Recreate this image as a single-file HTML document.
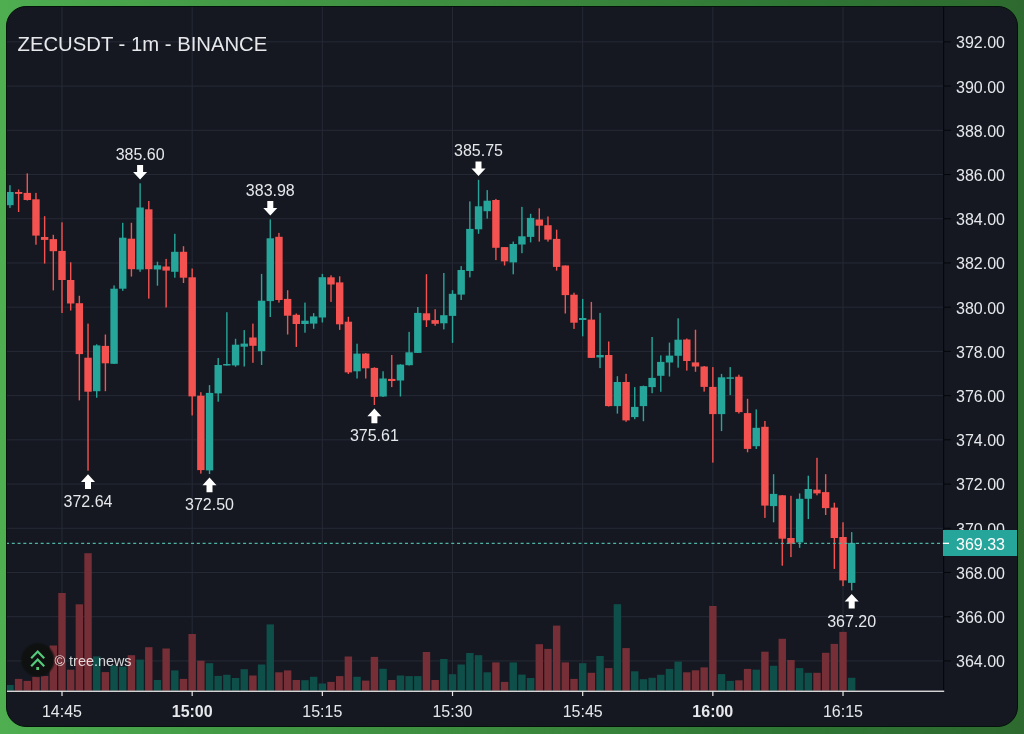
<!DOCTYPE html><html><head><meta charset="utf-8"><style>
html,body{margin:0;padding:0;width:1024px;height:734px;overflow:hidden;}
body{background:linear-gradient(90deg,#4eae50 0%,#449c47 20%,#3c8a3e 50%,#2f7735 76%,#2e6a2f 100%);position:relative;}
#p{position:absolute;left:6px;top:6px;width:1012px;height:721px;box-sizing:border-box;border:1px solid #03120a;border-radius:20px;overflow:hidden;background:#151821;}
#p svg{position:absolute;left:-7px;top:-7px;will-change:transform;}
text{font-family:"Liberation Sans",sans-serif;}
</style></head><body><div id="p">
<svg width="1024" height="734" viewBox="0 0 1024 734">
<rect x="0" y="41.35" width="943" height="1" fill="#262a35"/><rect x="0" y="85.57" width="943" height="1" fill="#262a35"/><rect x="0" y="129.79" width="943" height="1" fill="#262a35"/><rect x="0" y="174.01" width="943" height="1" fill="#262a35"/><rect x="0" y="218.23" width="943" height="1" fill="#262a35"/><rect x="0" y="262.45" width="943" height="1" fill="#262a35"/><rect x="0" y="306.67" width="943" height="1" fill="#262a35"/><rect x="0" y="350.89" width="943" height="1" fill="#262a35"/><rect x="0" y="395.11" width="943" height="1" fill="#262a35"/><rect x="0" y="439.33" width="943" height="1" fill="#262a35"/><rect x="0" y="483.55" width="943" height="1" fill="#262a35"/><rect x="0" y="527.77" width="943" height="1" fill="#262a35"/><rect x="0" y="571.99" width="943" height="1" fill="#262a35"/><rect x="0" y="616.21" width="943" height="1" fill="#262a35"/><rect x="0" y="660.43" width="943" height="1" fill="#262a35"/><rect x="61.50" y="0" width="1" height="690" fill="#262a35"/><rect x="191.67" y="0" width="1" height="690" fill="#262a35"/><rect x="321.84" y="0" width="1" height="690" fill="#262a35"/><rect x="452.01" y="0" width="1" height="690" fill="#262a35"/><rect x="582.18" y="0" width="1" height="690" fill="#262a35"/><rect x="712.35" y="0" width="1" height="690" fill="#262a35"/><rect x="842.52" y="0" width="1" height="690" fill="#262a35"/>
<rect x="6.23" y="685.0" width="7.4" height="5.6" fill="#0f4f4a"/><rect x="14.91" y="678.9" width="7.4" height="11.7" fill="#772f37"/><rect x="23.59" y="680.9" width="7.4" height="9.7" fill="#772f37"/><rect x="32.26" y="676.8" width="7.4" height="13.8" fill="#772f37"/><rect x="40.94" y="676.0" width="7.4" height="14.6" fill="#772f37"/><rect x="49.62" y="645.5" width="7.4" height="45.1" fill="#772f37"/><rect x="58.30" y="593.0" width="7.4" height="97.6" fill="#772f37"/><rect x="66.98" y="669.7" width="7.4" height="20.9" fill="#772f37"/><rect x="75.65" y="604.3" width="7.4" height="86.3" fill="#772f37"/><rect x="84.33" y="553.2" width="7.4" height="137.4" fill="#772f37"/><rect x="93.01" y="656.4" width="7.4" height="34.2" fill="#0f4f4a"/><rect x="101.69" y="672.1" width="7.4" height="18.5" fill="#772f37"/><rect x="110.37" y="665.4" width="7.4" height="25.2" fill="#0f4f4a"/><rect x="119.04" y="666.6" width="7.4" height="24.0" fill="#0f4f4a"/><rect x="127.72" y="655.2" width="7.4" height="35.4" fill="#772f37"/><rect x="136.40" y="659.6" width="7.4" height="31.0" fill="#0f4f4a"/><rect x="145.08" y="647.2" width="7.4" height="43.4" fill="#772f37"/><rect x="153.76" y="680.0" width="7.4" height="10.6" fill="#0f4f4a"/><rect x="162.43" y="648.5" width="7.4" height="42.1" fill="#772f37"/><rect x="171.11" y="670.4" width="7.4" height="20.2" fill="#0f4f4a"/><rect x="179.79" y="678.9" width="7.4" height="11.7" fill="#772f37"/><rect x="188.47" y="634.0" width="7.4" height="56.6" fill="#772f37"/><rect x="197.15" y="660.7" width="7.4" height="29.9" fill="#772f37"/><rect x="205.82" y="663.2" width="7.4" height="27.4" fill="#0f4f4a"/><rect x="214.50" y="675.9" width="7.4" height="14.7" fill="#0f4f4a"/><rect x="223.18" y="674.8" width="7.4" height="15.8" fill="#0f4f4a"/><rect x="231.86" y="678.0" width="7.4" height="12.6" fill="#0f4f4a"/><rect x="240.54" y="669.2" width="7.4" height="21.4" fill="#0f4f4a"/><rect x="249.21" y="675.5" width="7.4" height="15.1" fill="#772f37"/><rect x="257.89" y="664.5" width="7.4" height="26.1" fill="#0f4f4a"/><rect x="266.57" y="624.4" width="7.4" height="66.2" fill="#0f4f4a"/><rect x="275.25" y="672.3" width="7.4" height="18.3" fill="#772f37"/><rect x="283.93" y="670.4" width="7.4" height="20.2" fill="#772f37"/><rect x="292.60" y="680.0" width="7.4" height="10.6" fill="#772f37"/><rect x="301.28" y="680.2" width="7.4" height="10.4" fill="#0f4f4a"/><rect x="309.96" y="676.8" width="7.4" height="13.8" fill="#0f4f4a"/><rect x="318.64" y="683.5" width="7.4" height="7.1" fill="#0f4f4a"/><rect x="327.32" y="681.9" width="7.4" height="8.7" fill="#772f37"/><rect x="335.99" y="676.1" width="7.4" height="14.5" fill="#772f37"/><rect x="344.67" y="656.5" width="7.4" height="34.1" fill="#772f37"/><rect x="353.35" y="676.8" width="7.4" height="13.8" fill="#0f4f4a"/><rect x="362.03" y="680.6" width="7.4" height="10.0" fill="#772f37"/><rect x="370.71" y="656.9" width="7.4" height="33.7" fill="#772f37"/><rect x="379.38" y="668.8" width="7.4" height="21.8" fill="#0f4f4a"/><rect x="388.06" y="680.0" width="7.4" height="10.6" fill="#772f37"/><rect x="396.74" y="675.5" width="7.4" height="15.1" fill="#0f4f4a"/><rect x="405.42" y="676.1" width="7.4" height="14.5" fill="#0f4f4a"/><rect x="414.10" y="676.1" width="7.4" height="14.5" fill="#0f4f4a"/><rect x="422.77" y="652.0" width="7.4" height="38.6" fill="#772f37"/><rect x="431.45" y="680.0" width="7.4" height="10.6" fill="#772f37"/><rect x="440.13" y="659.0" width="7.4" height="31.6" fill="#0f4f4a"/><rect x="448.81" y="674.2" width="7.4" height="16.4" fill="#0f4f4a"/><rect x="457.49" y="664.5" width="7.4" height="26.1" fill="#0f4f4a"/><rect x="466.16" y="653.0" width="7.4" height="37.6" fill="#0f4f4a"/><rect x="474.84" y="655.2" width="7.4" height="35.4" fill="#0f4f4a"/><rect x="483.52" y="672.3" width="7.4" height="18.3" fill="#0f4f4a"/><rect x="492.20" y="662.4" width="7.4" height="28.2" fill="#772f37"/><rect x="500.88" y="681.9" width="7.4" height="8.7" fill="#772f37"/><rect x="509.55" y="662.4" width="7.4" height="28.2" fill="#0f4f4a"/><rect x="518.23" y="674.6" width="7.4" height="16.0" fill="#0f4f4a"/><rect x="526.91" y="678.0" width="7.4" height="12.6" fill="#0f4f4a"/><rect x="535.59" y="644.2" width="7.4" height="46.4" fill="#772f37"/><rect x="544.27" y="648.9" width="7.4" height="41.7" fill="#772f37"/><rect x="552.94" y="625.6" width="7.4" height="65.0" fill="#772f37"/><rect x="561.62" y="662.4" width="7.4" height="28.2" fill="#772f37"/><rect x="570.30" y="678.9" width="7.4" height="11.7" fill="#772f37"/><rect x="578.98" y="663.2" width="7.4" height="27.4" fill="#0f4f4a"/><rect x="587.66" y="672.8" width="7.4" height="17.8" fill="#772f37"/><rect x="596.33" y="656.0" width="7.4" height="34.6" fill="#0f4f4a"/><rect x="605.01" y="668.1" width="7.4" height="22.5" fill="#772f37"/><rect x="613.69" y="604.2" width="7.4" height="86.4" fill="#0f4f4a"/><rect x="622.37" y="648.1" width="7.4" height="42.5" fill="#772f37"/><rect x="631.05" y="671.3" width="7.4" height="19.3" fill="#0f4f4a"/><rect x="639.72" y="679.2" width="7.4" height="11.4" fill="#0f4f4a"/><rect x="648.40" y="677.8" width="7.4" height="12.8" fill="#0f4f4a"/><rect x="657.08" y="674.8" width="7.4" height="15.8" fill="#0f4f4a"/><rect x="665.76" y="668.9" width="7.4" height="21.7" fill="#0f4f4a"/><rect x="674.44" y="661.6" width="7.4" height="29.0" fill="#0f4f4a"/><rect x="683.11" y="672.3" width="7.4" height="18.3" fill="#772f37"/><rect x="691.79" y="670.3" width="7.4" height="20.3" fill="#772f37"/><rect x="700.47" y="667.4" width="7.4" height="23.2" fill="#772f37"/><rect x="709.15" y="606.0" width="7.4" height="84.6" fill="#772f37"/><rect x="717.83" y="674.1" width="7.4" height="16.5" fill="#0f4f4a"/><rect x="726.50" y="680.9" width="7.4" height="9.7" fill="#0f4f4a"/><rect x="735.18" y="680.3" width="7.4" height="10.3" fill="#772f37"/><rect x="743.86" y="668.9" width="7.4" height="21.7" fill="#772f37"/><rect x="752.54" y="669.7" width="7.4" height="20.9" fill="#0f4f4a"/><rect x="761.22" y="651.7" width="7.4" height="38.9" fill="#772f37"/><rect x="769.89" y="665.8" width="7.4" height="24.8" fill="#0f4f4a"/><rect x="778.57" y="638.8" width="7.4" height="51.8" fill="#772f37"/><rect x="787.25" y="660.0" width="7.4" height="30.6" fill="#772f37"/><rect x="795.93" y="668.1" width="7.4" height="22.5" fill="#0f4f4a"/><rect x="804.61" y="672.8" width="7.4" height="17.8" fill="#0f4f4a"/><rect x="813.28" y="672.8" width="7.4" height="17.8" fill="#772f37"/><rect x="821.96" y="652.8" width="7.4" height="37.8" fill="#772f37"/><rect x="830.64" y="643.9" width="7.4" height="46.7" fill="#772f37"/><rect x="839.32" y="631.9" width="7.4" height="58.7" fill="#772f37"/><rect x="848.00" y="677.8" width="7.4" height="12.8" fill="#0f4f4a"/>
<defs><radialGradient id="lg"><stop offset="0.84" stop-color="#0e110f"/><stop offset="1" stop-color="#0e110f" stop-opacity="0"/></radialGradient></defs>
<circle cx="37.9" cy="659.9" r="18" fill="url(#lg)"/>
<g fill="none" stroke="#56cb7b" stroke-width="2.2" stroke-linecap="butt" stroke-linejoin="miter"><polyline points="31.2,658.2 37.7,651.6 44.2,658.2"/><polyline points="31.2,666.2 37.7,659.6 44.2,666.2"/></g><rect x="36.3" y="667" width="2.8" height="3" fill="#56cb7b"/>
<text x="54.5" y="666.2" font-size="14.4" fill="#ffffff" fill-opacity="0.82">© tree.news</text>
<rect x="9.23" y="185.2" width="1.4" height="22.7" fill="#26a69a"/><rect x="6.23" y="192.0" width="7.4" height="13.2" fill="#26a69a"/><rect x="17.91" y="189.5" width="1.4" height="22.5" fill="#f35250"/><rect x="14.91" y="192.0" width="7.4" height="1.9" fill="#f35250"/><rect x="26.59" y="173.4" width="1.4" height="27.1" fill="#f35250"/><rect x="23.59" y="192.9" width="7.4" height="7.1" fill="#f35250"/><rect x="35.26" y="192.9" width="1.4" height="51.8" fill="#f35250"/><rect x="32.26" y="199.3" width="7.4" height="36.3" fill="#f35250"/><rect x="43.94" y="216.2" width="1.4" height="47.4" fill="#f35250"/><rect x="40.94" y="237.0" width="7.4" height="2.9" fill="#f35250"/><rect x="52.62" y="234.8" width="1.4" height="55.6" fill="#f35250"/><rect x="49.62" y="239.1" width="7.4" height="12.1" fill="#f35250"/><rect x="61.30" y="222.3" width="1.4" height="90.7" fill="#f35250"/><rect x="58.30" y="250.9" width="7.4" height="29.1" fill="#f35250"/><rect x="69.98" y="262.3" width="1.4" height="48.2" fill="#f35250"/><rect x="66.98" y="280.0" width="7.4" height="23.5" fill="#f35250"/><rect x="78.65" y="295.8" width="1.4" height="104.6" fill="#f35250"/><rect x="75.65" y="303.2" width="7.4" height="50.9" fill="#f35250"/><rect x="87.33" y="323.6" width="1.4" height="147.1" fill="#f35250"/><rect x="84.33" y="357.7" width="7.4" height="34.0" fill="#f35250"/><rect x="96.01" y="344.3" width="1.4" height="53.4" fill="#26a69a"/><rect x="93.01" y="345.4" width="7.4" height="45.8" fill="#26a69a"/><rect x="104.69" y="334.5" width="1.4" height="56.7" fill="#f35250"/><rect x="101.69" y="345.9" width="7.4" height="17.4" fill="#f35250"/><rect x="113.37" y="285.4" width="1.4" height="78.6" fill="#26a69a"/><rect x="110.37" y="288.7" width="7.4" height="75.1" fill="#26a69a"/><rect x="122.04" y="222.8" width="1.4" height="68.0" fill="#26a69a"/><rect x="119.04" y="237.7" width="7.4" height="51.0" fill="#26a69a"/><rect x="130.72" y="222.8" width="1.4" height="53.8" fill="#f35250"/><rect x="127.72" y="238.7" width="7.4" height="30.5" fill="#f35250"/><rect x="139.40" y="183.3" width="1.4" height="88.5" fill="#26a69a"/><rect x="136.40" y="207.5" width="7.4" height="62.0" fill="#26a69a"/><rect x="148.08" y="201.0" width="1.4" height="97.6" fill="#f35250"/><rect x="145.08" y="209.3" width="7.4" height="59.9" fill="#f35250"/><rect x="156.76" y="261.7" width="1.4" height="24.0" fill="#26a69a"/><rect x="153.76" y="265.3" width="7.4" height="4.2" fill="#26a69a"/><rect x="165.43" y="258.9" width="1.4" height="48.6" fill="#f35250"/><rect x="162.43" y="266.5" width="7.4" height="4.1" fill="#f35250"/><rect x="174.11" y="233.8" width="1.4" height="43.9" fill="#26a69a"/><rect x="171.11" y="251.8" width="7.4" height="20.0" fill="#26a69a"/><rect x="182.79" y="246.2" width="1.4" height="36.8" fill="#f35250"/><rect x="179.79" y="251.8" width="7.4" height="25.9" fill="#f35250"/><rect x="191.47" y="268.5" width="1.4" height="147.0" fill="#f35250"/><rect x="188.47" y="277.3" width="7.4" height="119.1" fill="#f35250"/><rect x="200.15" y="392.2" width="1.4" height="81.4" fill="#f35250"/><rect x="197.15" y="395.7" width="7.4" height="74.4" fill="#f35250"/><rect x="208.82" y="385.1" width="1.4" height="88.9" fill="#26a69a"/><rect x="205.82" y="392.9" width="7.4" height="77.5" fill="#26a69a"/><rect x="217.50" y="358.0" width="1.4" height="43.7" fill="#26a69a"/><rect x="214.50" y="365.0" width="7.4" height="28.4" fill="#26a69a"/><rect x="226.18" y="312.2" width="1.4" height="53.3" fill="#26a69a"/><rect x="223.18" y="364.0" width="7.4" height="1.5" fill="#26a69a"/><rect x="234.86" y="338.8" width="1.4" height="27.9" fill="#26a69a"/><rect x="231.86" y="344.7" width="7.4" height="20.7" fill="#26a69a"/><rect x="243.54" y="330.1" width="1.4" height="36.4" fill="#26a69a"/><rect x="240.54" y="343.6" width="7.4" height="3.1" fill="#26a69a"/><rect x="252.21" y="323.6" width="1.4" height="39.2" fill="#f35250"/><rect x="249.21" y="337.5" width="7.4" height="8.3" fill="#f35250"/><rect x="260.89" y="273.9" width="1.4" height="91.1" fill="#26a69a"/><rect x="257.89" y="300.7" width="7.4" height="50.5" fill="#26a69a"/><rect x="269.57" y="219.4" width="1.4" height="97.6" fill="#26a69a"/><rect x="266.57" y="238.3" width="7.4" height="62.8" fill="#26a69a"/><rect x="278.25" y="232.9" width="1.4" height="69.7" fill="#f35250"/><rect x="275.25" y="236.8" width="7.4" height="63.2" fill="#f35250"/><rect x="286.93" y="290.2" width="1.4" height="44.3" fill="#f35250"/><rect x="283.93" y="298.9" width="7.4" height="16.8" fill="#f35250"/><rect x="295.60" y="313.5" width="1.4" height="33.4" fill="#f35250"/><rect x="292.60" y="314.8" width="7.4" height="9.2" fill="#f35250"/><rect x="304.28" y="302.6" width="1.4" height="30.1" fill="#26a69a"/><rect x="301.28" y="320.7" width="7.4" height="3.3" fill="#26a69a"/><rect x="312.96" y="313.1" width="1.4" height="15.7" fill="#26a69a"/><rect x="309.96" y="316.4" width="7.4" height="7.2" fill="#26a69a"/><rect x="321.64" y="273.9" width="1.4" height="48.6" fill="#26a69a"/><rect x="318.64" y="277.2" width="7.4" height="40.3" fill="#26a69a"/><rect x="330.32" y="275.3" width="1.4" height="26.6" fill="#f35250"/><rect x="327.32" y="277.3" width="7.4" height="7.2" fill="#f35250"/><rect x="338.99" y="276.3" width="1.4" height="53.6" fill="#f35250"/><rect x="335.99" y="282.4" width="7.4" height="41.9" fill="#f35250"/><rect x="347.67" y="316.8" width="1.4" height="57.2" fill="#f35250"/><rect x="344.67" y="321.7" width="7.4" height="50.7" fill="#f35250"/><rect x="356.35" y="343.7" width="1.4" height="34.8" fill="#26a69a"/><rect x="353.35" y="353.6" width="7.4" height="17.7" fill="#26a69a"/><rect x="365.03" y="353.0" width="1.4" height="25.5" fill="#f35250"/><rect x="362.03" y="353.6" width="7.4" height="14.7" fill="#f35250"/><rect x="373.71" y="367.3" width="1.4" height="37.7" fill="#f35250"/><rect x="370.71" y="367.9" width="7.4" height="29.0" fill="#f35250"/><rect x="382.38" y="371.3" width="1.4" height="25.7" fill="#26a69a"/><rect x="379.38" y="378.5" width="7.4" height="18.0" fill="#26a69a"/><rect x="391.06" y="355.0" width="1.4" height="32.1" fill="#f35250"/><rect x="388.06" y="378.9" width="7.4" height="2.1" fill="#f35250"/><rect x="399.74" y="364.2" width="1.4" height="32.3" fill="#26a69a"/><rect x="396.74" y="364.6" width="7.4" height="15.9" fill="#26a69a"/><rect x="408.42" y="331.9" width="1.4" height="33.6" fill="#26a69a"/><rect x="405.42" y="352.3" width="7.4" height="12.9" fill="#26a69a"/><rect x="417.10" y="307.0" width="1.4" height="46.0" fill="#26a69a"/><rect x="414.10" y="312.9" width="7.4" height="40.0" fill="#26a69a"/><rect x="425.77" y="274.2" width="1.4" height="52.8" fill="#f35250"/><rect x="422.77" y="313.3" width="7.4" height="7.0" fill="#f35250"/><rect x="434.45" y="309.2" width="1.4" height="16.5" fill="#f35250"/><rect x="431.45" y="320.1" width="7.4" height="3.7" fill="#f35250"/><rect x="443.13" y="273.0" width="1.4" height="56.4" fill="#26a69a"/><rect x="440.13" y="315.2" width="7.4" height="8.1" fill="#26a69a"/><rect x="451.81" y="290.2" width="1.4" height="52.7" fill="#26a69a"/><rect x="448.81" y="293.8" width="7.4" height="22.1" fill="#26a69a"/><rect x="460.49" y="266.1" width="1.4" height="33.9" fill="#26a69a"/><rect x="457.49" y="270.0" width="7.4" height="24.6" fill="#26a69a"/><rect x="469.16" y="201.4" width="1.4" height="76.0" fill="#26a69a"/><rect x="466.16" y="228.9" width="7.4" height="42.1" fill="#26a69a"/><rect x="477.84" y="179.8" width="1.4" height="54.0" fill="#26a69a"/><rect x="474.84" y="206.3" width="7.4" height="23.0" fill="#26a69a"/><rect x="486.52" y="190.1" width="1.4" height="28.5" fill="#26a69a"/><rect x="483.52" y="200.7" width="7.4" height="10.5" fill="#26a69a"/><rect x="495.20" y="198.9" width="1.4" height="61.2" fill="#f35250"/><rect x="492.20" y="200.0" width="7.4" height="47.8" fill="#f35250"/><rect x="503.88" y="247.0" width="1.4" height="18.5" fill="#f35250"/><rect x="500.88" y="247.1" width="7.4" height="14.3" fill="#f35250"/><rect x="512.55" y="241.6" width="1.4" height="32.7" fill="#26a69a"/><rect x="509.55" y="244.0" width="7.4" height="18.4" fill="#26a69a"/><rect x="521.23" y="206.9" width="1.4" height="46.3" fill="#26a69a"/><rect x="518.23" y="236.3" width="7.4" height="8.2" fill="#26a69a"/><rect x="529.91" y="213.8" width="1.4" height="28.6" fill="#26a69a"/><rect x="526.91" y="217.9" width="7.4" height="19.0" fill="#26a69a"/><rect x="538.59" y="208.3" width="1.4" height="33.3" fill="#f35250"/><rect x="535.59" y="219.5" width="7.4" height="6.2" fill="#f35250"/><rect x="547.27" y="216.5" width="1.4" height="25.1" fill="#f35250"/><rect x="544.27" y="225.2" width="7.4" height="14.4" fill="#f35250"/><rect x="555.94" y="229.7" width="1.4" height="40.9" fill="#f35250"/><rect x="552.94" y="238.9" width="7.4" height="28.0" fill="#f35250"/><rect x="564.62" y="265.5" width="1.4" height="48.0" fill="#f35250"/><rect x="561.62" y="265.5" width="7.4" height="29.6" fill="#f35250"/><rect x="573.30" y="292.7" width="1.4" height="36.2" fill="#f35250"/><rect x="570.30" y="294.7" width="7.4" height="28.0" fill="#f35250"/><rect x="581.98" y="298.9" width="1.4" height="37.4" fill="#26a69a"/><rect x="578.98" y="318.0" width="7.4" height="2.0" fill="#26a69a"/><rect x="590.66" y="301.9" width="1.4" height="56.1" fill="#f35250"/><rect x="587.66" y="319.6" width="7.4" height="38.3" fill="#f35250"/><rect x="599.33" y="312.9" width="1.4" height="55.2" fill="#26a69a"/><rect x="596.33" y="355.0" width="7.4" height="2.4" fill="#26a69a"/><rect x="608.01" y="341.5" width="1.4" height="65.0" fill="#f35250"/><rect x="605.01" y="355.0" width="7.4" height="51.1" fill="#f35250"/><rect x="616.69" y="376.2" width="1.4" height="37.4" fill="#26a69a"/><rect x="613.69" y="382.0" width="7.4" height="24.1" fill="#26a69a"/><rect x="625.37" y="373.8" width="1.4" height="48.0" fill="#f35250"/><rect x="622.37" y="382.0" width="7.4" height="38.4" fill="#f35250"/><rect x="634.05" y="387.1" width="1.4" height="32.1" fill="#26a69a"/><rect x="631.05" y="406.9" width="7.4" height="10.2" fill="#26a69a"/><rect x="642.72" y="385.6" width="1.4" height="35.6" fill="#26a69a"/><rect x="639.72" y="386.1" width="7.4" height="20.0" fill="#26a69a"/><rect x="651.40" y="337.0" width="1.4" height="56.2" fill="#26a69a"/><rect x="648.40" y="377.9" width="7.4" height="9.2" fill="#26a69a"/><rect x="660.08" y="355.4" width="1.4" height="36.4" fill="#26a69a"/><rect x="657.08" y="361.9" width="7.4" height="13.9" fill="#26a69a"/><rect x="668.76" y="342.6" width="1.4" height="33.9" fill="#26a69a"/><rect x="665.76" y="355.6" width="7.4" height="6.9" fill="#26a69a"/><rect x="677.44" y="318.3" width="1.4" height="49.4" fill="#26a69a"/><rect x="674.44" y="339.7" width="7.4" height="16.1" fill="#26a69a"/><rect x="686.11" y="338.5" width="1.4" height="32.1" fill="#f35250"/><rect x="683.11" y="339.5" width="7.4" height="21.5" fill="#f35250"/><rect x="694.79" y="329.7" width="1.4" height="42.1" fill="#f35250"/><rect x="691.79" y="362.4" width="7.4" height="4.1" fill="#f35250"/><rect x="703.47" y="366.0" width="1.4" height="25.6" fill="#f35250"/><rect x="700.47" y="366.5" width="7.4" height="20.4" fill="#f35250"/><rect x="712.15" y="367.1" width="1.4" height="95.5" fill="#f35250"/><rect x="709.15" y="386.9" width="7.4" height="27.2" fill="#f35250"/><rect x="720.83" y="373.9" width="1.4" height="57.2" fill="#26a69a"/><rect x="717.83" y="377.3" width="7.4" height="36.8" fill="#26a69a"/><rect x="729.50" y="367.1" width="1.4" height="28.0" fill="#26a69a"/><rect x="726.50" y="377.3" width="7.4" height="1.5" fill="#26a69a"/><rect x="738.18" y="374.7" width="1.4" height="38.8" fill="#f35250"/><rect x="735.18" y="376.7" width="7.4" height="35.4" fill="#f35250"/><rect x="746.86" y="398.8" width="1.4" height="53.5" fill="#f35250"/><rect x="743.86" y="413.1" width="7.4" height="35.8" fill="#f35250"/><rect x="755.54" y="409.4" width="1.4" height="39.6" fill="#26a69a"/><rect x="752.54" y="427.8" width="7.4" height="18.4" fill="#26a69a"/><rect x="764.22" y="421.0" width="1.4" height="96.9" fill="#f35250"/><rect x="761.22" y="426.8" width="7.4" height="78.8" fill="#f35250"/><rect x="772.89" y="474.2" width="1.4" height="48.1" fill="#26a69a"/><rect x="769.89" y="493.9" width="7.4" height="12.2" fill="#26a69a"/><rect x="781.57" y="495.0" width="1.4" height="70.7" fill="#f35250"/><rect x="778.57" y="495.3" width="7.4" height="43.4" fill="#f35250"/><rect x="790.25" y="495.8" width="1.4" height="61.3" fill="#f35250"/><rect x="787.25" y="538.0" width="7.4" height="5.6" fill="#f35250"/><rect x="798.93" y="493.4" width="1.4" height="54.4" fill="#26a69a"/><rect x="795.93" y="498.8" width="7.4" height="43.6" fill="#26a69a"/><rect x="807.61" y="475.7" width="1.4" height="43.4" fill="#26a69a"/><rect x="804.61" y="489.0" width="7.4" height="9.8" fill="#26a69a"/><rect x="816.28" y="457.8" width="1.4" height="37.5" fill="#f35250"/><rect x="813.28" y="489.7" width="7.4" height="3.7" fill="#f35250"/><rect x="824.96" y="474.2" width="1.4" height="40.8" fill="#f35250"/><rect x="821.96" y="492.1" width="7.4" height="16.0" fill="#f35250"/><rect x="833.64" y="502.7" width="1.4" height="66.2" fill="#f35250"/><rect x="830.64" y="507.6" width="7.4" height="30.4" fill="#f35250"/><rect x="842.32" y="522.3" width="1.4" height="63.8" fill="#f35250"/><rect x="839.32" y="537.0" width="7.4" height="43.4" fill="#f35250"/><rect x="851.00" y="532.1" width="1.4" height="58.3" fill="#26a69a"/><rect x="848.00" y="542.9" width="7.4" height="40.0" fill="#26a69a"/>
<line x1="6" y1="543.3" x2="943" y2="543.3" stroke="#4fb3a3" stroke-width="1.2" stroke-dasharray="3 2.7825"/>
<rect x="943" y="0" width="1.2" height="690.5" fill="#05070b"/>
<rect x="944" y="41.35" width="7" height="1" fill="#05070b"/><text x="956" y="48.2" font-size="16" fill="#e6e8ec">392.00</text><rect x="944" y="85.57" width="7" height="1" fill="#05070b"/><text x="956" y="92.5" font-size="16" fill="#e6e8ec">390.00</text><rect x="944" y="129.79" width="7" height="1" fill="#05070b"/><text x="956" y="136.7" font-size="16" fill="#e6e8ec">388.00</text><rect x="944" y="174.01" width="7" height="1" fill="#05070b"/><text x="956" y="180.9" font-size="16" fill="#e6e8ec">386.00</text><rect x="944" y="218.23" width="7" height="1" fill="#05070b"/><text x="956" y="225.1" font-size="16" fill="#e6e8ec">384.00</text><rect x="944" y="262.45" width="7" height="1" fill="#05070b"/><text x="956" y="269.3" font-size="16" fill="#e6e8ec">382.00</text><rect x="944" y="306.67" width="7" height="1" fill="#05070b"/><text x="956" y="313.6" font-size="16" fill="#e6e8ec">380.00</text><rect x="944" y="350.89" width="7" height="1" fill="#05070b"/><text x="956" y="357.8" font-size="16" fill="#e6e8ec">378.00</text><rect x="944" y="395.11" width="7" height="1" fill="#05070b"/><text x="956" y="402.0" font-size="16" fill="#e6e8ec">376.00</text><rect x="944" y="439.33" width="7" height="1" fill="#05070b"/><text x="956" y="446.2" font-size="16" fill="#e6e8ec">374.00</text><rect x="944" y="483.55" width="7" height="1" fill="#05070b"/><text x="956" y="490.4" font-size="16" fill="#e6e8ec">372.00</text><rect x="944" y="527.77" width="7" height="1" fill="#05070b"/><text x="956" y="534.7" font-size="16" fill="#e6e8ec">370.00</text><rect x="944" y="571.99" width="7" height="1" fill="#05070b"/><text x="956" y="578.9" font-size="16" fill="#e6e8ec">368.00</text><rect x="944" y="616.21" width="7" height="1" fill="#05070b"/><text x="956" y="623.1" font-size="16" fill="#e6e8ec">366.00</text><rect x="944" y="660.43" width="7" height="1" fill="#05070b"/><text x="956" y="667.3" font-size="16" fill="#e6e8ec">364.00</text>
<rect x="943" y="530" width="76" height="26" fill="#26a69a"/>
<rect x="943" y="542.7" width="6" height="1.3" fill="#ffffff"/>
<text x="956" y="549.7" font-size="16" fill="#ffffff">369.33</text>
<rect x="0" y="690.6" width="944.2" height="1.3" fill="#e8e8e8"/>
<rect x="61.40" y="691" width="1.2" height="5" fill="#e8e8e8"/><text x="62.0" y="716.6" font-size="16" text-anchor="middle" fill="#e6e8ec">14:45</text><rect x="191.57" y="691" width="1.2" height="5" fill="#e8e8e8"/><text x="192.2" y="716.6" font-size="16" text-anchor="middle" fill="#e6e8ec" font-weight="bold">15:00</text><rect x="321.74" y="691" width="1.2" height="5" fill="#e8e8e8"/><text x="322.3" y="716.6" font-size="16" text-anchor="middle" fill="#e6e8ec">15:15</text><rect x="451.91" y="691" width="1.2" height="5" fill="#e8e8e8"/><text x="452.5" y="716.6" font-size="16" text-anchor="middle" fill="#e6e8ec">15:30</text><rect x="582.08" y="691" width="1.2" height="5" fill="#e8e8e8"/><text x="582.7" y="716.6" font-size="16" text-anchor="middle" fill="#e6e8ec">15:45</text><rect x="712.25" y="691" width="1.2" height="5" fill="#e8e8e8"/><text x="712.8" y="716.6" font-size="16" text-anchor="middle" fill="#e6e8ec" font-weight="bold">16:00</text><rect x="842.42" y="691" width="1.2" height="5" fill="#e8e8e8"/><text x="843.0" y="716.6" font-size="16" text-anchor="middle" fill="#e6e8ec">16:15</text>
<text x="140.1" y="159.9" font-size="16" text-anchor="middle" fill="#e6e8ec">385.60</text><path d="M137.1,164.9 h6 v7 h4 l-7,7.5 l-7,-7.5 h4 z" fill="#ffffff"/>
<text x="270.3" y="196.0" font-size="16" text-anchor="middle" fill="#e6e8ec">383.98</text><path d="M267.3,201.0 h6 v7 h4 l-7,7.5 l-7,-7.5 h4 z" fill="#ffffff"/>
<text x="478.5" y="156.4" font-size="16" text-anchor="middle" fill="#e6e8ec">385.75</text><path d="M475.5,161.4 h6 v7 h4 l-7,7.5 l-7,-7.5 h4 z" fill="#ffffff"/>
<path d="M88.0,474.3 l7,7.6 h-4 v7 h-6 v-7 h-4 z" fill="#ffffff"/><text x="88.0" y="507.1" font-size="16" text-anchor="middle" fill="#e6e8ec">372.64</text>
<path d="M209.5,477.6 l7,7.6 h-4 v7 h-6 v-7 h-4 z" fill="#ffffff"/><text x="209.5" y="510.4" font-size="16" text-anchor="middle" fill="#e6e8ec">372.50</text>
<path d="M374.4,408.6 l7,7.6 h-4 v7 h-6 v-7 h-4 z" fill="#ffffff"/><text x="374.4" y="441.4" font-size="16" text-anchor="middle" fill="#e6e8ec">375.61</text>
<path d="M851.7,594.0 l7,7.6 h-4 v7 h-6 v-7 h-4 z" fill="#ffffff"/><text x="851.7" y="626.8" font-size="16" text-anchor="middle" fill="#e6e8ec">367.20</text>
<text x="17.5" y="50.5" font-size="20.3" fill="#e6e8ec">ZECUSDT - 1m - BINANCE</text>
</svg></div></body></html>
